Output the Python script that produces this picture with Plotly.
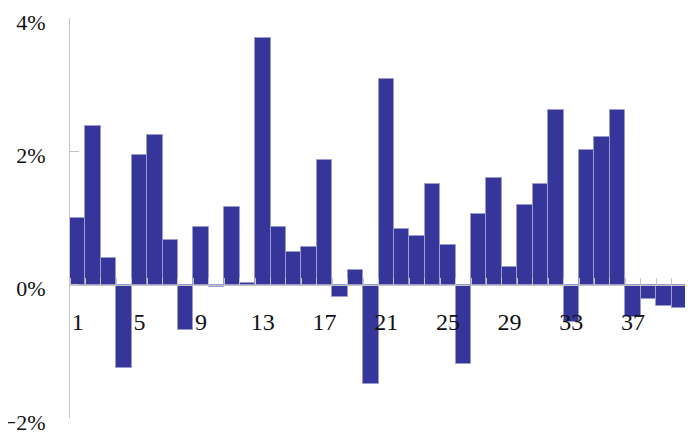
import plotly.graph_objects as go

categories = list(range(1, 41))
values = [1.00, 2.38, 0.40, -1.25, 1.94, 2.245, 0.67, -0.685, 0.86, -0.04,
          1.165, 0.02, 3.70, 0.86, 0.49, 0.56, 1.875, -0.18, 0.22, -1.495,
          3.09, 0.83, 0.73, 1.505, 0.595, -1.195, 1.065, 1.605, 0.26, 1.20,
          1.505, 2.615, -0.555, 2.015, 2.21, 2.615, -0.48, -0.215, -0.315, -0.345]
x_tick_labels = ["1", "5", "9", "13", "17", "21", "25", "29", "33", "37"]
y_tick_values = [-2, 0, 2, 4]
y_tick_labels = ["\u22122%", "0%", "2%", "4%"]

font_family = "Liberation Serif, Times New Roman, DejaVu Serif, serif"

fig = go.Figure(
    go.Bar(
        x=[c + 0.5 for c in categories],
        y=values,
        width=1,
        marker=dict(color="#35359a", line=dict(color="#9a9acc", width=1)),
    )
)

fig.update_layout(
    width=685,
    height=430,
    margin=dict(l=62, r=6, t=10, b=20, autoexpand=False),
    paper_bgcolor="white",
    plot_bgcolor="white",
    showlegend=False,
    bargap=0,
    font=dict(family=font_family, color="#111111"),
    xaxis=dict(
        range=[1, 41],
        anchor="free",
        position=1 / 3,
        automargin=False,
        showline=True,
        linecolor="#c4c4c4",
        linewidth=1,
        showgrid=False,
        zeroline=False,
        tickmode="array",
        tickvals=[int(t) + 0.5 for t in x_tick_labels],
        ticktext=x_tick_labels,
        ticks="",
        tickfont=dict(size=24, family=font_family, color="#111111"),
        ticklabelstandoff=16,
        ticklabeloverflow="allow",
        minor=dict(
            tickmode="array",
            tickvals=list(range(1, 42)),
            ticks="inside",
            ticklen=7,
            tickcolor="#c4c4c4",
            tickwidth=1,
            showgrid=False,
        ),
    ),
    yaxis=dict(
        range=[-2, 4],
        domain=[0, 1],
        automargin=False,
        showline=True,
        linecolor="#c4c4c4",
        linewidth=1,
        showgrid=False,
        zeroline=False,
        tickmode="array",
        tickvals=y_tick_values,
        ticktext=y_tick_labels,
        ticks="inside",
        ticklen=9,
        tickcolor="#c4c4c4",
        tickfont=dict(size=22, family=font_family, color="#111111"),
        ticklabelstandoff=19,
        ticklabelshift=4,
        ticklabeloverflow="allow",
    ),
)

fig.write_html("out.html")
